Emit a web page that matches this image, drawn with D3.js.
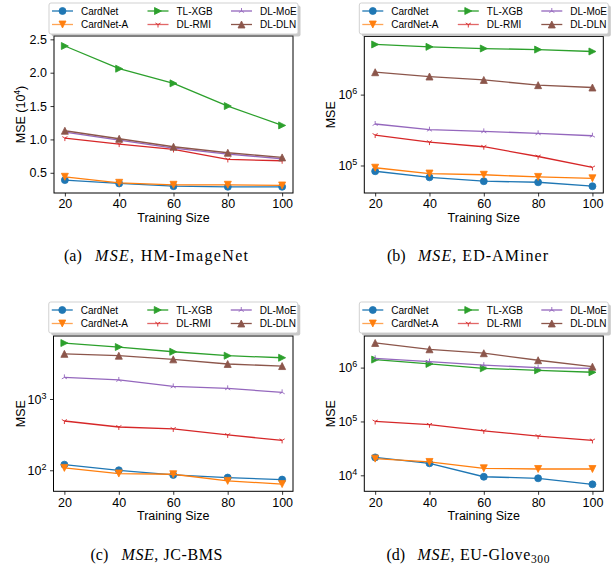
<!DOCTYPE html>
<html><head><meta charset="utf-8">
<script src="https://cdn.jsdelivr.net/npm/d3@7"></script>
<style>
body{margin:0;background:#fff}
svg{display:block}
text{font-family:"Liberation Sans",Arial,Helvetica,sans-serif;fill:#000}
</style>
</head><body>
<svg id="chart" width="616" height="571"></svg>
<script>
// ---------- data ----------
const trainingSizes = [20, 40, 60, 80, 100];
const seriesNames = ["CardNet", "CardNet-A", "TL-XGB", "DL-RMI", "DL-MoE", "DL-DLN"];
const seriesColors = ["#1f77b4", "#ff7f0e", "#2ca02c", "#d62728", "#9467bd", "#8c564b"];
const seriesMarkers = ["circle", "triDown", "triRight", "tri1", "tri2", "triUp"];

// (a) HM-ImageNet, MSE in units of 10^4
const hmCardNet  = [0.39, 0.34, 0.30, 0.29, 0.29];
const hmCardNetA = [0.44, 0.35, 0.32, 0.32, 0.31];
const hmTLXGB    = [2.40, 2.06, 1.84, 1.50, 1.21];
const hmDLRMI    = [1.02, 0.93, 0.85, 0.70, 0.68];
const hmDLMoE    = [1.11, 0.99, 0.87, 0.78, 0.71];
const hmDLDLN    = [1.13, 1.01, 0.89, 0.80, 0.73];
const hmTicks    = [0.5, 1.0, 1.5, 2.0, 2.5];

// (b) ED-AMiner
const edCardNet  = [8.3e4, 6.8e4, 6.0e4, 5.8e4, 5.1e4];
const edCardNetA = [9.3e4, 7.7e4, 7.4e4, 6.9e4, 6.6e4];
const edTLXGB    = [5.1e6, 4.72e6, 4.47e6, 4.32e6, 4.06e6];
const edDLRMI    = [2.69e5, 2.14e5, 1.84e5, 1.34e5, 9.4e4];
const edDLMoE    = [3.85e5, 3.2e5, 3.03e5, 2.84e5, 2.63e5];
const edDLDLN    = [2.07e6, 1.80e6, 1.61e6, 1.36e6, 1.26e6];
const edTicks    = [1e5, 1e6];

// (c) JC-BMS
const jcCardNet  = [120, 100, 86, 79, 74];
const jcCardNetA = [108, 90, 88, 71, 64];
const jcTLXGB    = [6100, 5360, 4600, 4050, 3790];
const jcDLRMI    = [491, 405, 380, 313, 263];
const jcDLMoE    = [2010, 1850, 1500, 1410, 1240];
const jcDLDLN    = [4300, 4050, 3600, 3100, 2900];
const jcTicks    = [1e2, 1e3];

// (d) EU-Glove300
const euCardNet  = [2.15e4, 1.67e4, 9.4e3, 8.8e3, 6.8e3];
const euCardNetA = [2.04e4, 1.77e4, 1.35e4, 1.31e4, 1.31e4];
const euTLXGB    = [1.41e6, 1.17e6, 9.7e5, 8.9e5, 8.2e5];
const euDLRMI    = [1.0e5, 8.7e4, 6.7e4, 5.35e4, 4.45e4];
const euDLMoE    = [1.49e6, 1.29e6, 1.11e6, 1.0e6, 9.7e5];
const euDLDLN    = [2.87e6, 2.19e6, 1.85e6, 1.37e6, 1.04e6];
const euTicks    = [1e4, 1e5, 1e6];

// ---------- panel setup ----------
const panels = [
  { series: [hmCardNet, hmCardNetA, hmTLXGB, hmDLRMI, hmDLMoE, hmDLDLN], log: false,
    domain: [0.197, 2.55], ticks: hmTicks, ylabelSup: "4",
    tag: "(a)", name: [{t: "HM-ImageNet"}],
    left: 54, top: 36, width: 239, height: 157, legendTop: 3, capCenter: 156, capBase: 261, mainW: 153 },
  { series: [edCardNet, edCardNetA, edTLXGB, edDLRMI, edDLMoE, edDLDLN], log: true,
    domain: [Math.pow(10, 4.612), Math.pow(10, 6.82)], ticks: edTicks,
    tag: "(b)", name: [{t: "ED-AMiner"}],
    left: 364.3, top: 36.5, width: 239, height: 156.5, legendTop: 3, capCenter: 467.5, capBase: 261, mainW: 130 },
  { series: [jcCardNet, jcCardNetA, jcTLXGB, jcDLRMI, jcDLMoE, jcDLDLN], log: true,
    domain: [Math.pow(10, 1.705), Math.pow(10, 3.884)], ticks: jcTicks,
    tag: "(c)", name: [{t: "JC-BMS"}],
    left: 53.5, top: 336, width: 239.5, height: 155.3, legendTop: 302, capCenter: 156.5, capBase: 560, mainW: 101 },
  { series: [euCardNet, euCardNetA, euTLXGB, euDLRMI, euDLMoE, euDLDLN], log: true,
    domain: [Math.pow(10, 3.703), Math.pow(10, 6.587)], ticks: euTicks,
    tag: "(d)", name: [{t: "EU-Glove"}, {t: "300", sub: true}],
    left: 364.3, top: 336, width: 239, height: 155.3, legendTop: 302, capCenter: 468, capBase: 560, mainW: 132 }
];

const svg = d3.select("#chart");
svg.append("rect").attr("width", 616).attr("height", 571).attr("fill", "#fff");

function markerPath(type, h) {
  switch (type) {
    case "circle": return d3.symbol(d3.symbolCircle, Math.PI * h * h)();
    case "triUp": return `M0,${-h}L${-h},${h}L${h},${h}Z`;
    case "triDown": return `M0,${h}L${-h},${-h}L${h},${-h}Z`;
    case "triRight": return `M${h},0L${-h},${-h}L${-h},${h}Z`;
    case "tri1": return `M0,0L0,${h}M0,0L${0.86*h},${-0.5*h}M0,0L${-0.86*h},${-0.5*h}`;
    case "tri2": return `M0,0L0,${-h}M0,0L${0.86*h},${0.5*h}M0,0L${-0.86*h},${0.5*h}`;
  }
}
function drawMarker(g, type, color, x, y) {
  const open = type === "tri1" || type === "tri2";
  g.append("path").attr("d", markerPath(type, open ? 3.0 : 3.5))
    .attr("transform", `translate(${x},${y})`)
    .attr("fill", open ? "none" : color)
    .attr("stroke", color).attr("stroke-width", open ? 0.9 : 0.8);
}

const fs = 12.5;

panels.forEach(p => {
  const g = svg.append("g").attr("transform", `translate(${p.left},${p.top})`);
  const x = d3.scaleLinear().domain([16, 104]).range([0, p.width]);
  const y = (p.log ? d3.scaleLog() : d3.scaleLinear()).domain(p.domain).range([p.height, 0]);

  // x axis
  const xa = g.append("g").attr("transform", `translate(0,${p.height})`)
    .call(d3.axisBottom(x).tickValues(trainingSizes).tickSize(3.5).tickSizeOuter(0).tickPadding(3));
  xa.select(".domain").remove();
  xa.selectAll("line").attr("stroke", "#000").attr("stroke-width", 0.8);
  xa.selectAll("text").attr("font-size", fs).attr("font-family", "Liberation Sans, Arial, sans-serif").attr("fill", "#000");

  // y axis
  const ya = g.append("g")
    .call(d3.axisLeft(y).tickValues(p.ticks).tickSize(3.5).tickSizeOuter(0).tickPadding(3.5)
      .tickFormat(p.log ? (() => "") : d3.format(".1f")));
  ya.select(".domain").remove();
  ya.selectAll("line").attr("stroke", "#000").attr("stroke-width", 0.8);
  ya.selectAll("text").attr("font-size", fs).attr("font-family", "Liberation Sans, Arial, sans-serif").attr("fill", "#000");
  if (p.log) {
    ya.selectAll(".tick text").each(function(d) {
      const t = d3.select(this);
      t.text(null);
      t.append("tspan").text("10");
      t.append("tspan").attr("font-size", 9).attr("dy", -5).text(Math.round(Math.log10(d)));
    });
  }

  // y label
  const yl = g.append("text").attr("transform", `translate(-29,${p.height / 2}) rotate(-90)`)
    .attr("text-anchor", "middle").attr("font-size", fs);
  if (p.ylabelSup) {
    yl.append("tspan").text("MSE (10");
    yl.append("tspan").attr("font-size", 8.5).attr("dy", -5).text(p.ylabelSup);
    yl.append("tspan").attr("dy", 5).text(")");
  } else {
    yl.text("MSE");
  }

  // x label
  g.append("text").attr("x", p.width / 2).attr("y", p.height + 29)
    .attr("text-anchor", "middle").attr("font-size", fs).text("Training Size");

  // lines and markers
  const line = d3.line().x((d, i) => x(trainingSizes[i])).y(d => y(d));
  p.series.forEach((vals, si) => {
    const c = seriesColors[si];
    g.append("path").datum(vals).attr("d", line).attr("fill", "none")
      .attr("stroke", c).attr("stroke-width", 1.3).attr("stroke-linejoin", "round");
    vals.forEach((v, i) => drawMarker(g, seriesMarkers[si], c, x(trainingSizes[i]), y(v)));
  });

  // frame
  g.append("rect").attr("width", p.width).attr("height", p.height)
    .attr("fill", "none").attr("stroke", "#000").attr("stroke-width", 1);

  // legend
  const lw = 249, lh = 31;
  const lx = p.left + p.width / 2 - lw / 2, ly = p.legendTop;
  const lg = svg.append("g").attr("transform", `translate(${lx},${ly})`);
  lg.append("rect").attr("x", 2.5).attr("y", 2.5).attr("width", lw).attr("height", lh)
    .attr("rx", 2).attr("fill", "#888").attr("opacity", 0.45);
  lg.append("rect").attr("width", lw).attr("height", lh).attr("rx", 2)
    .attr("fill", "#fff").attr("stroke", "#cccccc").attr("stroke-width", 0.9);
  const colX = [3, 98.5, 182];
  const rowY = [8, 21.5];
  seriesNames.forEach((nm, si) => {
    const cx = colX[Math.floor(si / 2)], cy = rowY[si % 2];
    const c = seriesColors[si];
    const faded = si === 1 || si === 3;
    lg.append("line").attr("x1", cx).attr("x2", cx + 21).attr("y1", cy).attr("y2", cy)
      .attr("stroke", c).attr("stroke-width", 1.3).attr("opacity", faded ? 0.7 : 1);
    drawMarker(lg, seriesMarkers[si], c, cx + 10.5, cy);
    lg.append("text").attr("x", cx + 29).attr("y", cy + 3.6).attr("font-size", 10).text(nm);
  });

  // caption
  const capLeft = p.capCenter - (31 + p.mainW) / 2;
  svg.append("text").attr("x", capLeft).attr("y", p.capBase)
    .attr("font-size", 16).attr("fill", "#222").text(p.tag)
    .style("font-family", "'Liberation Serif', serif");
  const ct = svg.append("text").attr("x", capLeft + 31).attr("y", p.capBase)
    .attr("font-size", 16).attr("fill", "#222")
    .attr("textLength", p.mainW).attr("lengthAdjust", "spacing")
    .style("font-family", "'Liberation Serif', serif");
  ct.append("tspan").attr("font-style", "italic").text("MSE");
  ct.append("tspan").text(", ");
  p.name.forEach(part => {
    if (part.sub) ct.append("tspan").attr("font-size", 11.5).attr("dy", 3).text(part.t);
    else ct.append("tspan").text(part.t);
  });
});
</script>
</body></html>
